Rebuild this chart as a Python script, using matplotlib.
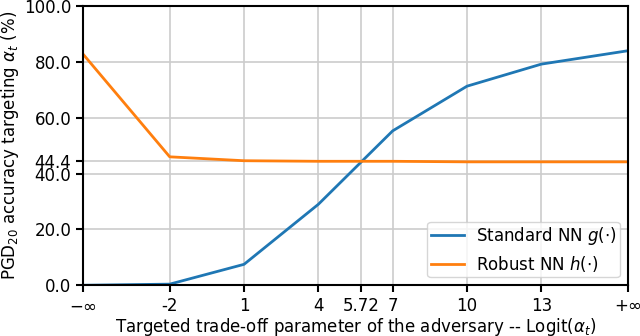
import numpy as np
import matplotlib
matplotlib.use('Agg')
import matplotlib.pyplot as plt

# Targeted trade-off (logit of alpha_t); -inf/+inf placed at the axis ends
logit_pos = [-5.5, -2, 1, 4, 7, 10, 13, 16.5]
xtick_pos = [-5.5, -2, 1, 4, 5.72, 7, 10, 13, 16.5]
xtick_labels = [r'$-\infty$', '-2', '1', '4', '5.72', '7', '10', '13', r'$+\infty$']
ytick_pos = [0, 20, 40, 44.4, 60, 80, 100]

# PGD20 accuracy (%)
acc_standard = [0.0, 0.4, 7.5, 29.0, 55.3, 71.3, 79.2, 84.0]
acc_robust = [82.8, 46.0, 44.6, 44.4, 44.4, 44.2, 44.2, 44.2]

plt.rcParams['font.size'] = 12
fig = plt.figure(figsize=(6.4, 3.36), dpi=100)
ax = fig.add_axes([0.1297, 0.151, 0.8516, 0.831])
ax.plot(logit_pos, acc_standard, c='#1f77b4', lw=2, label=r'Standard NN $g(\cdot)$')
ax.plot(logit_pos, acc_robust, c='#ff7f0e', lw=2, label=r'Robust NN $h(\cdot)$')
ax.set_xlim(-5.5, 16.5)
ax.set_ylim(0, 100)
ax.set_xticks(xtick_pos)
ax.set_xticklabels(xtick_labels)
ax.set_yticks(ytick_pos)
ax.set_yticklabels(['%.1f' % v for v in ytick_pos])
ax.grid(True, color='#cccccc', lw=1.2)
ax.set_axisbelow(True)
for s in ax.spines.values():
    s.set_linewidth(1.5)
ax.tick_params(width=1.5, length=5)
ax.set_xlabel(r'Targeted trade-off parameter of the adversary -- Logit($\alpha_t$)', labelpad=1)
ax.set_ylabel(r'PGD$_{20}$ accuracy targeting $\alpha_t$ (%)', labelpad=2)
ax.legend(loc='lower right', borderpad=0.2, labelspacing=0.4, handletextpad=0.7)
fig.savefig('out.png', dpi=100)
